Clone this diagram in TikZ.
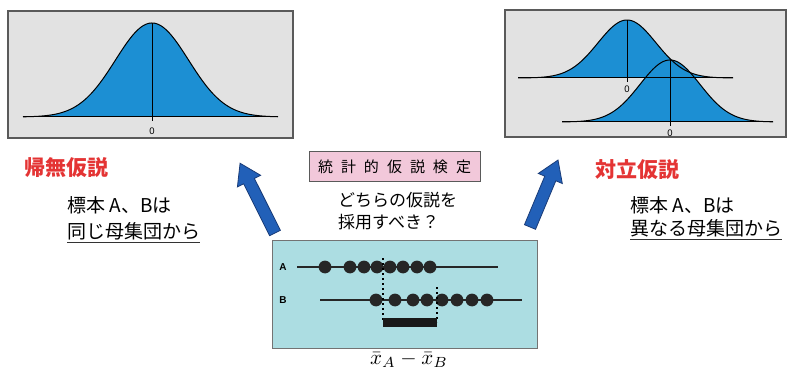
\documentclass[tikz,border=0pt]{standalone}
\usepackage{fontspec}
\setsansfont{Liberation Sans}
\newfontfamily\cjk{Noto Sans CJK JP}
\definecolor{boxgray}{RGB}{226,226,226}
\definecolor{boxedge}{RGB}{90,90,90}
\definecolor{curveblue}{RGB}{28,143,211}
\definecolor{hyred}{RGB}{228,52,52}
\definecolor{pinkbg}{RGB}{242,200,218}
\definecolor{cyanbg}{RGB}{172,221,226}
\definecolor{arrowblue}{RGB}{34,96,184}
\definecolor{arrowedge}{RGB}{26,60,120}
\begin{document}
\begin{tikzpicture}[x=1pt,y=-1pt,
  plotbox/.style={draw=boxedge, line width=1.5pt, fill=boxgray, inner sep=0pt},
  curvefill/.style={fill=curveblue},
  curveline/.style={line width=1pt, black},
  zerolbl/.style={font=\sffamily\fontsize{9.5}{10}\selectfont, inner sep=0pt},
  jtext/.style={anchor=west, inner sep=0pt, font=\cjk\fontsize{19}{22}\selectfont},
  hyplbl/.style={anchor=west, inner sep=0pt, text=hyred, font=\cjk\bfseries\fontsize{21}{24}\selectfont},
  uline/.style={line width=1pt, black!80},
  bigarrow/.style={fill=arrowblue, draw=arrowedge, line width=0.8pt},
  rowlbl/.style={font=\sffamily\bfseries\fontsize{10}{12}\selectfont, inner sep=0pt},
  rowline/.style={line width=2pt, black!85},
  dotA/.style={fill=black!85}
]
\useasboundingbox (0,0) rectangle (789,374);
\fill[white] (0,0) rectangle (789,374);

% ---------- left plot box ----------
\node[plotbox, minimum width=285pt, minimum height=127pt] (lbox) at (150.5,74.5) {};
\fill[curvefill] plot[domain=23:278, samples=150] (\x,{117-94*exp(-((\x-152)/36.5)^2/2)}) -- cycle;
\draw[curveline] plot[domain=23:278, samples=150] (\x,{117-94*exp(-((\x-152)/36.5)^2/2)});
\draw[curveline] (23,117) -- (278,117);
\draw[curveline] (152,23) -- (152,121);
\node[zerolbl] (lz) at (152,131) {0};

% ---------- right plot box ----------
\node[plotbox, minimum width=281pt, minimum height=127pt] (rbox) at (645.5,73.5) {};
\fill[curvefill] plot[domain=518:733, samples=150] (\x,{78-58*exp(-((\x-627)/29)^2/2)}) -- cycle;
\fill[curvefill] plot[domain=562:773, samples=150] (\x,{122-62*exp(-((\x-670)/30)^2/2)}) -- cycle;
\draw[curveline] plot[domain=518:733, samples=150] (\x,{78-58*exp(-((\x-627)/29)^2/2)});
\draw[curveline] (518,78) -- (733,78);
\draw[curveline] (627,20) -- (627,82);
\draw[curveline] plot[domain=562:773, samples=150] (\x,{122-62*exp(-((\x-670)/30)^2/2)});
\draw[curveline] (562,122) -- (773,122);
\draw[curveline] (670,60) -- (670,126);
\node[zerolbl] (rz1) at (627,89) {0};
\node[zerolbl] (rz2) at (670,133) {0};

% ---------- left texts ----------
\node[hyplbl] (null) at (24,168) {帰無仮説};
\node[jtext] (l1) at (67,205) {標本 A、Bは};
\node[jtext] (l2) at (67,231) {同じ母集団から};
\draw[uline] ([yshift=-3pt]l2.south west) -- ([yshift=-3pt]l2.south east);

% ---------- right texts ----------
\node[hyplbl] (alt) at (595,170) {対立仮説};
\node[jtext] (r1) at (630,205) {標本 A、Bは};
\node[jtext] (r2) at (630,228) {異なる母集団から};
\draw[uline] ([yshift=-3pt]r2.south west) -- ([yshift=-3pt]r2.south east);

% ---------- centre title ----------
\node[draw=boxedge, line width=1pt, fill=pinkbg, minimum width=171pt, minimum height=30pt, inner sep=0pt,
      font=\cjk\fontsize{15}{18}\selectfont] (title) at (394.5,167)
  {統\hspace{8pt}計\hspace{8pt}的\hspace{8pt}仮\hspace{8pt}説\hspace{8pt}検\hspace{8pt}定};
\node[anchor=west, inner sep=0pt, font=\cjk\fontsize{17}{20}\selectfont] (q1) at (338,200) {どちらの仮説を};
\node[anchor=west, inner sep=0pt, font=\cjk\fontsize{17}{20}\selectfont] (q2) at (338,222) {採用すべき？};

% ---------- sample box ----------
\node[draw=black!55, line width=1pt, fill=cyanbg, minimum width=265pt, minimum height=108pt, inner sep=0pt] (sbox) at (404.5,294) {};
\node[rowlbl] (la) at (283,267) {A};
\node[rowlbl] (lb) at (283,300) {B};
\coordinate (a0) at (297,267); \coordinate (a1) at (498,267);
\coordinate (b0) at (320,300); \coordinate (b1) at (522,300);
\draw[rowline] (a0) -- (a1);
\draw[rowline] (b0) -- (b1);
\foreach \p in {325,350,364,377,390,403,417,430} \fill[dotA] (\p,267) circle (6.4pt);
\foreach \p in {376,395,413,427,442,457,472,487} \fill[dotA] (\p,300) circle (6.4pt);
\coordinate (mA) at (383,258); \coordinate (mB) at (437,287);
\coordinate (mA2) at (383,322); \coordinate (mB2) at (437,322);
\draw[line width=2pt, dash pattern=on 2pt off 3pt, black] (mA) -- (mA2);
\draw[line width=2pt, dash pattern=on 2pt off 3pt, black] (mB) -- (mB2);
\fill[black!90] (383,318) rectangle (437,327);
\node[inner sep=0pt] (diff) at (409,360) {\scalebox{2.1}{$\bar{x}_A-\bar{x}_B$}};

% ---------- arrows ----------
\coordinate (lt) at (275,233);
\coordinate (rt) at (530,227);
\begin{scope}[shift={(lt)}, rotate=116.6]
  \draw[bigarrow] (0,-6) -- (58,-6) -- (58,-13) -- (78,0) -- (58,13) -- (58,6) -- (0,6) -- cycle;
\end{scope}
\begin{scope}[shift={(rt)}, rotate=67.3]
  \draw[bigarrow] (0,-6) -- (52.6,-6) -- (52.6,-13) -- (72.6,0) -- (52.6,13) -- (52.6,6) -- (0,6) -- cycle;
\end{scope}
\end{tikzpicture}
\end{document}
